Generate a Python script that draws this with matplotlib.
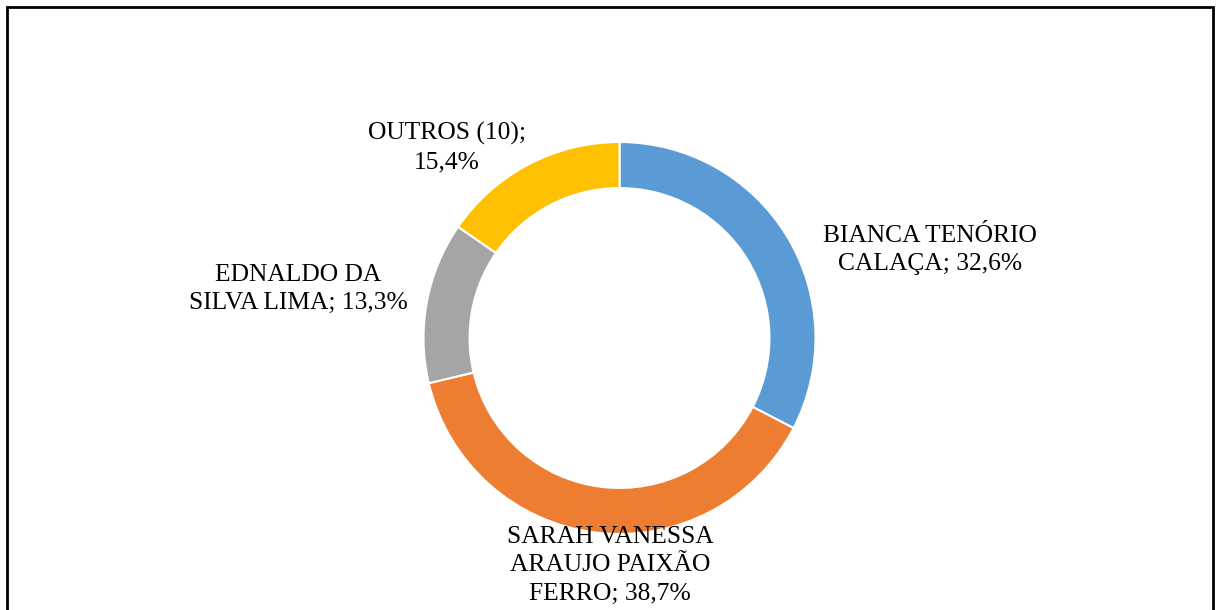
import matplotlib.pyplot as plt
from matplotlib.patches import Rectangle

plt.rcParams['font.family'] = ['Liberation Serif', 'DejaVu Serif']

names = ["BIANCA TENÓRIO\nCALAÇA", "SARAH VANESSA\nARAUJO PAIXÃO\nFERRO",
         "EDNALDO DA\nSILVA LIMA", "OUTROS (10)"]
shares = [32.6, 38.7, 13.3, 15.4]
colors = ["#5B9BD5", "#ED7D31", "#A5A5A5", "#FFC000"]

W, H = 1218, 610
fig = plt.figure(figsize=(W / 100, H / 100), dpi=100)

# outer frame (bottom edge falls outside the image)
fig.patches.append(Rectangle((7 / W, -0.1), (1213 - 7) / W, 1 - 7 / H + 0.1,
                             transform=fig.transFigure, fill=False,
                             edgecolor="black", linewidth=2.0, clip_on=False))

cx, cy, r = 619.5, 338, 196
ax = fig.add_axes([(cx - r) / W, (H - cy - r) / H, 2 * r / W, 2 * r / H])
ax.pie(shares, colors=colors, startangle=90, counterclock=False, radius=1,
       wedgeprops=dict(width=0.235, edgecolor="white", linewidth=1.5))
ax.set_xlim(-1, 1)
ax.set_ylim(-1, 1)
ax.axis("off")

# label texts and their centres (pixels)
label_pos = [(930, 250), (610, 565), (298, 289), (447, 148)]
for name, s, (px, py) in zip(names, shares, label_pos):
    if name.startswith("OUTROS"):
        txt = f"{name};\n{s:.1f}%".replace(".", ",")
    else:
        lines = name.split("\n")
        lines[-1] = f"{lines[-1]}; {s:.1f}%".replace(".", ",")
        txt = "\n".join(lines)
    fig.text(px / W, 1 - py / H, txt, ha="center", va="center",
             fontsize=18.4, linespacing=1.38, color="black")

fig.savefig("out.png", dpi=100)
